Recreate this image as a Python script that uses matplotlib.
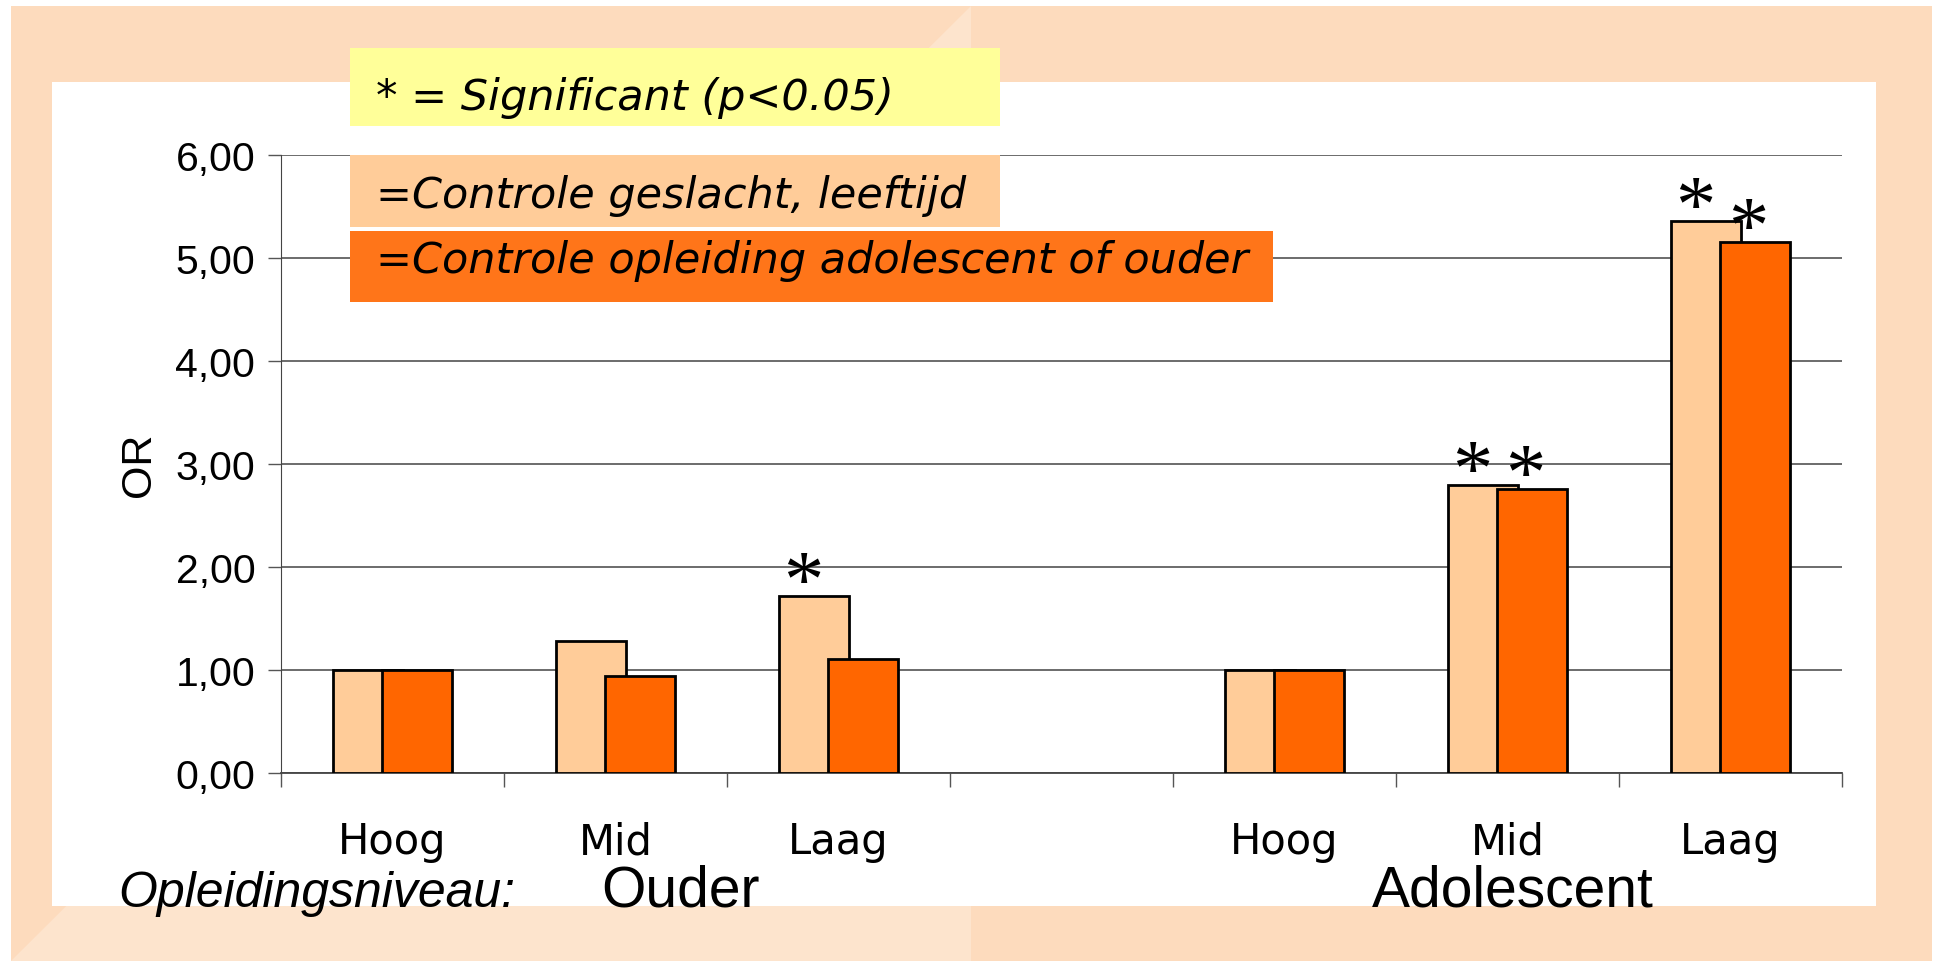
#!/usr/bin/env python3

import numpy as np
import matplotlib
matplotlib.use("Agg")
import matplotlib.pyplot as plt
from matplotlib.patches import Rectangle, Polygon

# odds ratios per opleidingsniveau (ouder: Hoog/Mid/Laag, adolescent: Hoog/Mid/Laag)
groups = ["Ouder", "Adolescent"]
levels = ["Hoog", "Mid", "Laag"]
or_sex_age = [1.00, 1.28, 1.72, 1.00, 2.80, 5.36]
or_education = [1.00, 0.945, 1.11, 1.00, 2.76, 5.16]
sig_sex_age = [False, False, True, False, True, True]
sig_education = [False, False, False, False, True, True]
yticks = [0, 1, 2, 3, 4, 5, 6]

W, H = 1934, 962
PEACH = "#FDDBBD"
PEACH_LIGHT = "#FDE4CD"
LIGHT = "#FFCC99"
DARK = "#FF6600"

fig = plt.figure(figsize=(W / 100, H / 100), dpi=100)
fig.patch.set_facecolor("white")

# slide background
bg = fig.add_axes([0, 0, 1, 1], zorder=0)
bg.set_xlim(0, W)
bg.set_ylim(H, 0)
bg.axis("off")
bg.add_patch(Rectangle((11, 7), 1921, 955, color=PEACH, lw=0))
bg.add_patch(Polygon([(971, 7), (971, 962), (11, 962)], color=PEACH_LIGHT, lw=0))
bg.add_patch(Rectangle((52, 83), 1824, 824, color="white", lw=0))

# chart
ax = fig.add_axes([281 / W, (H - 774) / H, 1561 / W, 618 / H], zorder=1)
ax.patch.set_alpha(0)

# category slots: 3 per group with an empty slot in between
x = np.array([0, 1, 2, 4, 5, 6])
off, bw = 0.11, 0.31
ax.bar(x - off, or_sex_age, width=bw, color=LIGHT, edgecolor="black", lw=2.0, zorder=3)
ax.bar(x + off, or_education, width=bw, color=DARK, edgecolor="black", lw=2.0, zorder=4)

# significance stars
star = dict(ha="center", va="baseline", fontsize=58, family="Liberation Serif", zorder=5)
for xi, v, s in zip(x - off, or_sex_age, sig_sex_age):
    if s:
        ax.text(xi - 0.05, v - 0.09, "*", **star)
for xi, v, s in zip(x + off, or_education, sig_education):
    if s:
        ax.text(xi - 0.03, v - 0.09, "*", **star)

ax.set_xlim(-0.5, 6.5)
ax.set_ylim(0, 6)
ax.set_yticks(yticks)
ax.set_yticklabels([f"{v:.2f}".replace(".", ",") for v in yticks],
                   fontsize=29.5, family="Liberation Sans")
ax.tick_params(axis="y", length=9.5, width=1, color="#555555", pad=9)
ax.yaxis.grid(True, color="#444444", lw=1.1)
ax.set_axisbelow(True)

ax.set_xticks(range(7))
ax.set_xticklabels(levels + [""] + levels, fontsize=30, family="DejaVu Sans")
ax.set_xticks(np.arange(-0.5, 7, 1), minor=True)
ax.tick_params(axis="x", which="major", length=0, pad=34)
ax.tick_params(axis="x", which="minor", length=10, width=1, color="#555555")

for side in ["top", "right"]:
    ax.spines[side].set_visible(False)
ax.spines["left"].set_color("#444444")
ax.spines["bottom"].set_color("#444444")
ax.spines["bottom"].set_linewidth(1.3)

ax.set_ylabel("OR", fontsize=31, family="Liberation Sans", labelpad=12)

# overlay: legend boxes and group labels
ov = fig.add_axes([0, 0, 1, 1], zorder=2)
ov.set_xlim(0, W)
ov.set_ylim(H, 0)
ov.axis("off")
ov.patch.set_alpha(0)

ov.add_patch(Rectangle((350, 49), 650, 78, color="#FFFF99", lw=0))
ov.add_patch(Rectangle((350, 156), 650, 72, color=LIGHT, lw=0))
ov.add_patch(Rectangle((350, 232), 923, 71, color="#FF7519", lw=0))

legend_font = dict(fontsize=31, family="DejaVu Sans", style="oblique", va="baseline", ha="left")
ov.text(376, 110, "* = Significant (p<0.05)", **legend_font)
ov.text(376, 208, "=Controle geslacht, leeftijd", **legend_font)
ov.text(376, 273, "=Controle opleiding adolescent of ouder", **legend_font)

ov.text(118, 907, "Opleidingsniveau:", fontsize=36, family="Liberation Sans",
        style="italic", va="baseline", ha="left")
ov.text(680, 907, groups[0], fontsize=41, family="Liberation Sans", va="baseline", ha="center")
ov.text(1513, 907, groups[1], fontsize=41, family="Liberation Sans", va="baseline", ha="center")

fig.savefig("out.png", dpi=100, facecolor=fig.get_facecolor())
